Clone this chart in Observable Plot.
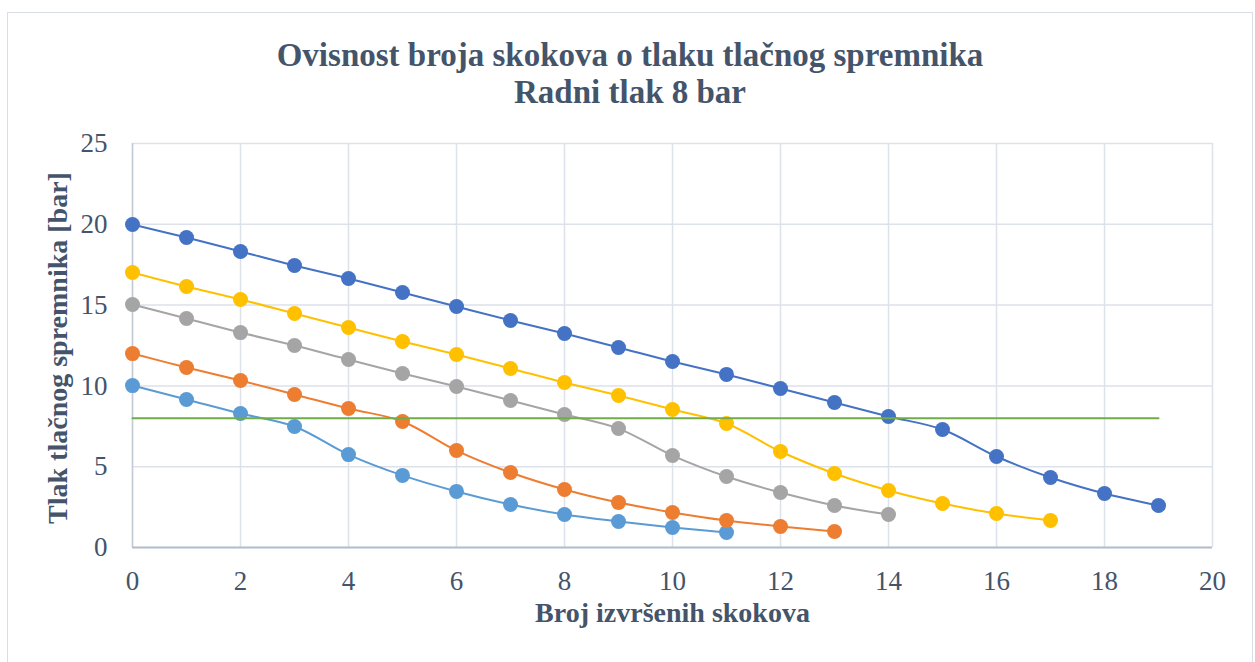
<!DOCTYPE html>
<html>
<head>
<meta charset="utf-8">
<script src="https://cdn.jsdelivr.net/npm/d3@7"></script>
<script src="https://cdn.jsdelivr.net/npm/@observablehq/plot@0.6"></script>
<style>
  html, body { margin: 0; padding: 0; background: #fff; }
  body { width: 1255px; height: 662px; overflow: hidden; position: relative; font-family: "Liberation Serif", "Times New Roman", serif; }
  #frame { position: absolute; left: 7px; top: 12px; width: 1246px; height: 660px; border: 1px solid #D9DEE6; box-sizing: border-box; }
  #title { position: absolute; left: 7px; top: 37px; width: 1246px; text-align: center; color: #44546A; font-weight: bold; font-size: 33px; line-height: 37px; }
  #ytitle { position: absolute; left: 58px; top: 348px; transform: translate(-50%, -50%) rotate(-90deg); white-space: nowrap; color: #44546A; font-weight: bold; font-size: 28px; line-height: 28px; }
  #chart { position: absolute; left: 0; top: 120px; }
</style>
</head>
<body>
<div id="frame"></div>
<div id="title">Ovisnost broja skokova o tlaku tlačnog spremnika<br>Radni tlak 8 bar</div>
<div id="chart"></div>
<div id="ytitle">Tlak tlačnog spremnika [bar]</div>
<script>
// Number of jumps (x)
const jumps = [0, 1, 2, 3, 4, 5, 6, 7, 8, 9, 10, 11, 12, 13, 14, 15, 16, 17, 18, 19];
// Tank pressure [bar] for each starting pressure
const p10 = [10.02, 9.16, 8.29, 7.49, 5.75, 4.46, 3.47, 2.66, 2.04, 1.61, 1.24, 0.93];
const p12 = [12.0, 11.14, 10.33, 9.47, 8.60, 7.80, 6.00, 4.64, 3.59, 2.78, 2.17, 1.67, 1.30, 0.99];
const p15 = [15.04, 14.17, 13.30, 12.50, 11.63, 10.77, 9.96, 9.10, 8.23, 7.36, 5.69, 4.39, 3.40, 2.60, 2.04];
const p17 = [17.02, 16.15, 15.35, 14.48, 13.61, 12.75, 11.94, 11.08, 10.21, 9.41, 8.54, 7.67, 5.94, 4.58, 3.53, 2.72, 2.10, 1.67];
const p20 = [19.99, 19.18, 18.32, 17.45, 16.65, 15.78, 14.91, 14.05, 13.24, 12.38, 11.51, 10.71, 9.84, 8.97, 8.11, 7.30, 5.63, 4.33, 3.34, 2.60];
const workingPressure = 8;
const workingRange = [0, 19];

const seriesNames = ["10 bar", "12 bar", "15 bar", "17 bar", "20 bar"];
const seriesValues = [p10, p12, p15, p17, p20];
const seriesColors = ["#5B9BD5", "#ED7D31", "#A5A5A5", "#FFC000", "#4472C4"];

const xTicks = [0, 2, 4, 6, 8, 10, 12, 14, 16, 18, 20];
const yTicks = [0, 5, 10, 15, 20, 25];

const rows = seriesNames.map((name, k) =>
  seriesValues[k].map((v, i) => ({ s: name, x: jumps[i], y: v })));
const workRows = workingRange.map(x => ({ x, y: workingPressure }));

const txt = "#44546A";
const font = "Liberation Serif, Times New Roman, serif";

const marks = [
  Plot.gridX(xTicks, { stroke: "#DDE2EA", strokeOpacity: 1, strokeWidth: 1.5 }),
  Plot.gridY(yTicks, { stroke: "#DDE2EA", strokeOpacity: 1, strokeWidth: 1.5 }),
  Plot.ruleX([0], { stroke: "#C3CBD7", strokeWidth: 1.5 }),
  Plot.ruleY([0], { stroke: "#B4BDCB", strokeWidth: 2 }),
  Plot.axisX(xTicks, { tickSize: 0, tickPadding: 23, fontSize: 27, fontFamily: font, fill: txt, label: null }),
  Plot.axisY(yTicks, { tickSize: 0, tickPadding: 25, fontSize: 27, fontFamily: font, fill: txt, label: null }),
  Plot.text(["Broj izvršenih skokova"], { frameAnchor: "bottom", dy: 74, fontSize: 28, fontWeight: "bold", fontFamily: font, fill: txt })
];
rows.forEach((r, k) => {
  marks.push(Plot.line(r, { x: "x", y: "y", stroke: seriesColors[k], strokeWidth: 2, curve: "catmull-rom" }));
  marks.push(Plot.dot(r, { x: "x", y: "y", fill: seriesColors[k], r: 7.5 }));
});
marks.push(Plot.line(workRows, { x: "x", y: "y", stroke: "#70AD47", strokeWidth: 2 }));

const chart = Plot.plot({
  width: 1255,
  height: 542,
  marginLeft: 132,
  marginRight: 43,
  marginTop: 23,
  marginBottom: 115,
  x: { domain: [0, 20] },
  y: { domain: [0, 25] },
  style: { background: "transparent", overflow: "visible" },
  marks
});
document.getElementById("chart").appendChild(chart);
</script>
</body>
</html>
